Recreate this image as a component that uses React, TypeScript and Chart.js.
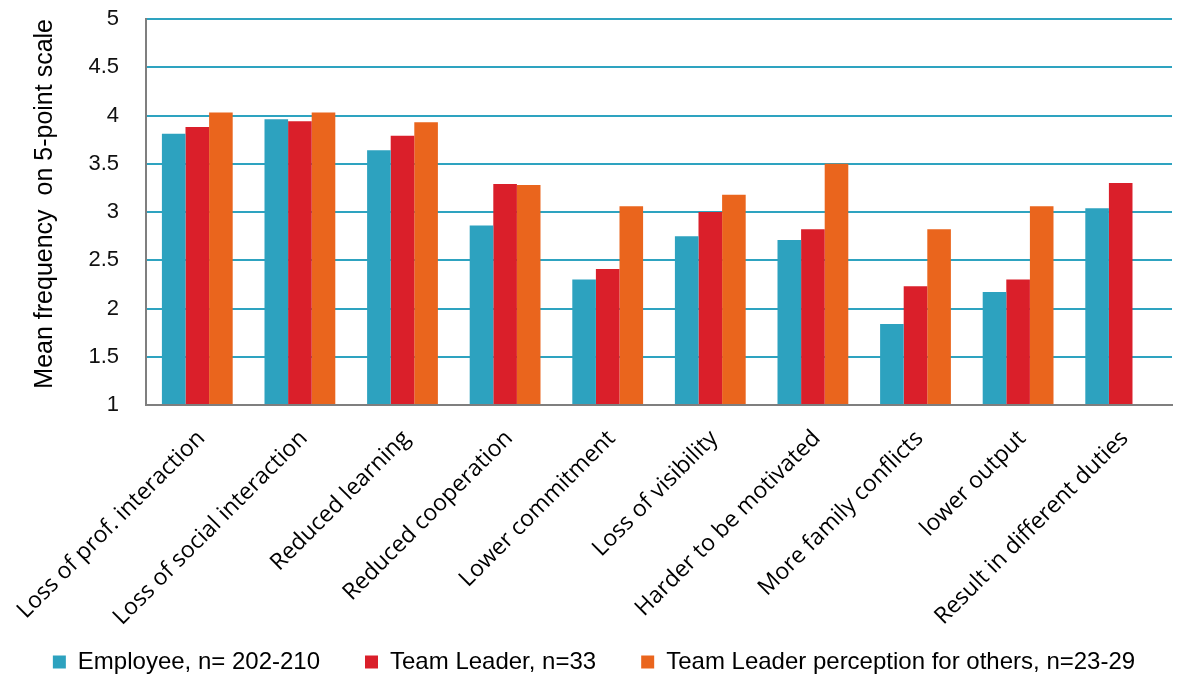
import React, { useEffect, useRef } from "react";
import { Chart, registerables } from "chart.js";

Chart.register(...registerables);

const categories: string[] = [
  "Loss of prof. interaction",
  "Loss of social interaction",
  "Reduced learning",
  "Reduced cooperation",
  "Lower commitment",
  "Loss of visibility",
  "Harder to be motivated",
  "More family conflicts",
  "lower output",
  "Result in different duties",
];

const employee: number[] = [3.81, 3.96, 3.64, 2.86, 2.3, 2.75, 2.71, 1.84, 2.17, 3.04];
const teamLeader: number[] = [3.88, 3.94, 3.79, 3.29, 2.41, 3.0, 2.82, 2.23, 2.3, 3.3];
const teamLeaderOthers: (number | null)[] = [4.03, 4.03, 3.93, 3.28, 3.06, 3.18, 3.5, 2.82, 3.06, null];

const seriesNames: string[] = [
  "Employee, n= 202-210",
  "Team Leader, n=33",
  "Team Leader perception for others, n=23-29",
];

const yTitle = "Mean frequency  on 5-point scale";

export default function App() {
  const ref = useRef<HTMLCanvasElement | null>(null);

  useEffect(() => {
    if (!ref.current) return;
    const chart = new Chart(ref.current, {
      type: "bar",
      data: {
        labels: categories,
        datasets: [
          { label: seriesNames[0], data: employee, backgroundColor: "#2DA2BF", base: 1 },
          { label: seriesNames[1], data: teamLeader, backgroundColor: "#DA1F2A", base: 1 },
          { label: seriesNames[2], data: teamLeaderOthers, backgroundColor: "#EA651D", base: 1 },
        ] as any,
      },
      options: {
        responsive: false,
        animation: false,
        layout: { padding: { left: 0, right: 0, top: 19, bottom: 0 } },
        datasets: {
          bar: { categoryPercentage: 0.69, barPercentage: 1.0 },
        } as any,
        plugins: {
          tooltip: { enabled: false },
          legend: {
            position: "bottom",
            labels: {
              boxWidth: 13,
              boxHeight: 13,
              padding: 45,
              color: "#000",
              font: { family: "'Liberation Sans', Arial, sans-serif", size: 24 },
            },
          },
        },
        scales: {
          x: {
            grid: { display: false },
            border: { display: true, color: "#7F7F7F", width: 2 },
            ticks: {
              autoSkip: false,
              minRotation: 45,
              maxRotation: 45,
              padding: 12,
              labelOffset: 4,
              color: "#000",
              font: { family: "'Open Sans', sans-serif", size: 23 },
            },
            afterFit: (s: any) => {
              s.height = 200;
              s.paddingLeft = 0;
              s.paddingRight = 16;
              s._computeLabelArea = () => undefined;
            },
          },
          y: {
            min: 1,
            max: 5,
            ticks: {
              stepSize: 0.5,
              padding: 27,
              color: "#111",
              font: { family: "'Liberation Sans', Arial, sans-serif", size: 22 },
              callback: (v: any) => String(v),
            },
            grid: {
              drawTicks: false,
              color: "#2EA3C0",
              lineWidth: 2,
            },
            border: { display: true, color: "#7F7F7F", width: 2 },
            title: {
              display: true,
              text: yTitle,
              align: "end",
              color: "#000",
              padding: { top: 30, bottom: 0 },
              font: { family: "'Liberation Sans', Arial, sans-serif", size: 25 },
            },
            afterFit: (s: any) => {
              s.width = 146;
              s.paddingTop = 0;
              s.paddingBottom = 0;
            },
          },
        },
      },
    });
    return () => chart.destroy();
  }, []);

  return (
    <div style={{ position: "fixed", left: 0, top: 0, width: 1188, height: 684, background: "#fff" }}>
      <canvas ref={ref} width={1188} height={684} />
    </div>
  );
}
